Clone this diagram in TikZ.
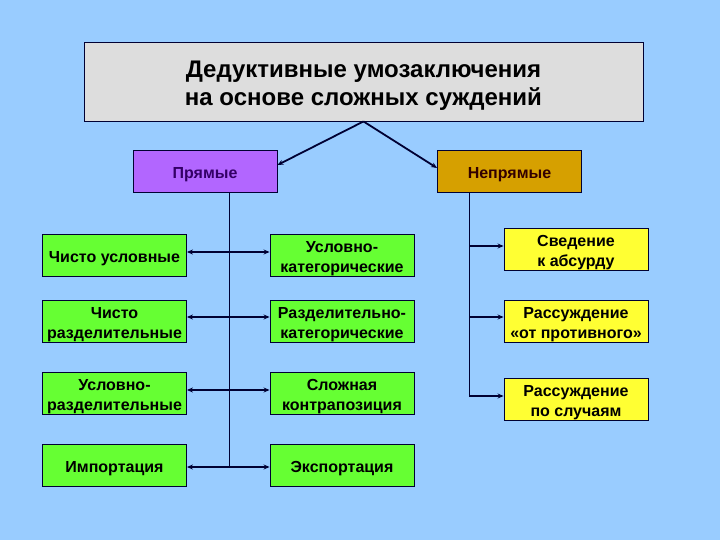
\documentclass[tikz,border=0pt]{standalone}
\usepackage{fontspec}
\setmainfont{Liberation Sans}
\usetikzlibrary{arrows.meta,calc}
\definecolor{bg}{RGB}{153,204,255}
\definecolor{titlefill}{RGB}{221,221,221}
\definecolor{purp}{RGB}{178,102,255}
\definecolor{gold}{RGB}{214,160,0}
\definecolor{grn}{RGB}{102,255,51}
\definecolor{yel}{RGB}{255,255,51}
\definecolor{ln}{RGB}{0,0,51}
\newcommand\boxstrut{\rule{0pt}{17.5pt}}
\tikzset{
  box/.style={draw=ln, line width=0.9pt, minimum width=144pt, minimum height=42pt, inner sep=0pt, align=center, font=\fontsize{16}{20}\selectfont\bfseries, execute at begin node={\boxstrut}},
  gbox/.style={box, fill=grn},
  ybox/.style={box, fill=yel},
  conn/.style={draw=ln, line width=1pt},
  arr/.style={draw=ln, line width=1.8pt, -{Stealth[length=6pt,width=5pt]}},
  darr/.style={draw=ln, line width=1.8pt, {Stealth[length=6pt,width=5pt]}-{Stealth[length=6pt,width=5pt]}}
}
\begin{document}
\begin{tikzpicture}[x=1pt,y=-1pt]
\fill[bg] (0,0) rectangle (720,540);
\useasboundingbox (0,0) rectangle (720,540);
\node[draw=ln, line width=0.9pt, fill=titlefill, minimum width=559pt, minimum height=79pt, align=center, font=\fontsize{24}{28}\selectfont\bfseries] (t) at (363.5,81.5) {\rule{0pt}{25pt}Дедуктивные умозаключения\\ на основе сложных суждений};
\node[box, fill=purp, text={rgb,255:red,51;green,0;blue,102}] (pr) at (205,171) {Прямые};
\node[box, fill=gold, text={rgb,255:red,51;green,0;blue,0}] (np) at (509.5,171) {Непрямые};

\node[gbox] (l1) at (114.5,255) {Чисто условные};
\node[gbox] (l2) at (114.5,321) {\boxstrut Чисто\\разделительные};
\node[gbox] (l3) at (114.5,393) {\boxstrut Условно-\\разделительные};
\node[gbox] (l4) at (114.5,465) {Импортация};
\node[gbox] (r1) at (342,255) {\boxstrut Условно-\\категорические};
\node[gbox] (r2) at (342,321) {\boxstrut Разделительно-\\категорические};
\node[gbox] (r3) at (342,393) {\boxstrut Сложная\\контрапозиция};
\node[gbox] (r4) at (342,465) {Экспортация};

\node[ybox] (y1) at (576,249) {\boxstrut Сведение\\к абсурду};
\node[ybox] (y2) at (576,321) {\boxstrut Рассуждение\\«от противного»};
\node[ybox] (y3) at (576,399) {\boxstrut Рассуждение\\по случаям};

\draw[arr] (t.south) -- ([yshift=6pt]pr.east);
\draw[arr] (t.south) -- ([yshift=3pt]np.west);

\coordinate (vl) at (229,467);
\draw[conn] (pr.south -| vl) -- (vl);
\draw[darr] ([yshift=3pt]l1.east) -- ([yshift=3pt]r1.west);
\draw[darr] ([yshift=4pt]l2.east) -- ([yshift=4pt]r2.west);
\draw[darr] ([yshift=3pt]l3.east) -- ([yshift=3pt]r3.west);
\draw[darr] ([yshift=-2pt]l4.east) -- ([yshift=-2pt]r4.west);

\coordinate (vr) at (469,396);
\draw[conn] (np.south -| vr) -- (vr);
\draw[arr] ($(vr |- y1.west)+(0,-3)$) -- ([yshift=3pt]y1.west);
\draw[arr] ($(vr |- y2.west)+(0,-4)$) -- ([yshift=4pt]y2.west);
\draw[arr] (vr) -- ([yshift=3pt]y3.west);
\end{tikzpicture}
\end{document}
